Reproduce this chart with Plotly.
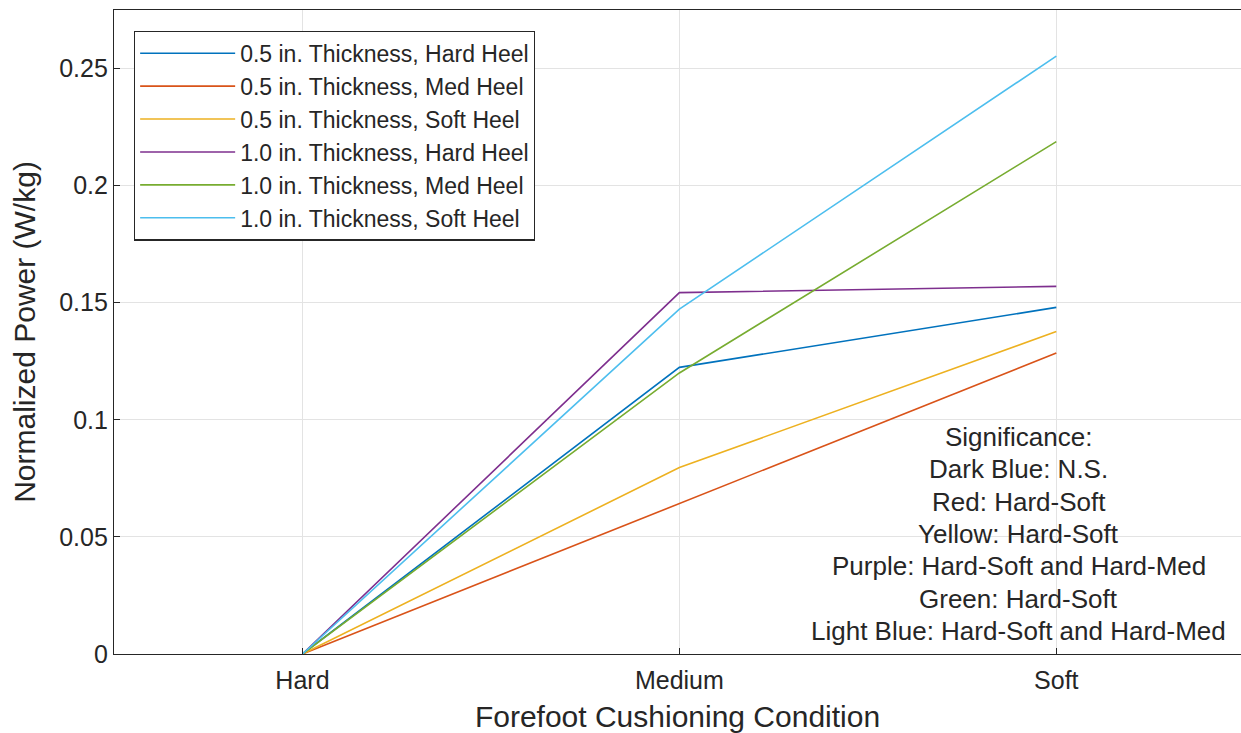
import plotly.graph_objects as go

categories = ["Hard", "Medium", "Soft"]
series_names = [
    "0.5 in. Thickness, Hard Heel",
    "0.5 in. Thickness, Med Heel",
    "0.5 in. Thickness, Soft Heel",
    "1.0 in. Thickness, Hard Heel",
    "1.0 in. Thickness, Med Heel",
    "1.0 in. Thickness, Soft Heel",
]
thin_hard = [0.0, 0.1224, 0.1480]
thin_med = [0.0, 0.0641, 0.1285]
thin_soft = [0.0, 0.0796, 0.1377]
thick_hard = [0.0, 0.1543, 0.1570]
thick_med = [0.0, 0.1200, 0.2188]
thick_soft = [0.0, 0.1473, 0.2553]
series_values = [thin_hard, thin_med, thin_soft, thick_hard, thick_med, thick_soft]
colors = ["#0072BD", "#D95319", "#EDB120", "#7E2F8E", "#77AC30", "#4DBEEE"]
y_ticks = [0, 0.05, 0.1, 0.15, 0.2, 0.25]
y_tick_labels = ["0", "0.05", "0.1", "0.15", "0.2", "0.25"]
sig_lines = [
    "Significance:",
    "Dark Blue: N.S.",
    "Red: Hard-Soft",
    "Yellow: Hard-Soft",
    "Purple: Hard-Soft and Hard-Med",
    "Green: Hard-Soft",
    "Light Blue: Hard-Soft and Hard-Med",
]

FONT = "Liberation Sans, Arial, sans-serif"
TXT = "#262626"
x_pos = list(range(1, len(categories) + 1))

fig = go.Figure()
for name, vals, col in zip(series_names, series_values, colors):
    fig.add_trace(go.Scatter(
        x=x_pos, y=vals, mode="lines", name=name,
        line=dict(color=col, width=1.6), legendgroup=name,
    ))

# significance note: one annotation per line (centred block)
note_top = 0.0927
note_step = 0.0138
for i, line in enumerate(sig_lines):
    fig.add_annotation(
        x=2.90, y=note_top - i * note_step, xref="x", yref="y",
        text=line, showarrow=False, align="center",
        xanchor="center", yanchor="middle",
        font=dict(family=FONT, size=26, color=TXT),
    )

axis_common = dict(
    showline=True, linecolor=TXT, linewidth=1.2, mirror=True,
    showgrid=True, gridcolor="#E3E3E3", gridwidth=1,
    ticks="inside", ticklen=6, tickcolor=TXT,
    tickfont=dict(family=FONT, size=25, color=TXT),
    zeroline=False,
)

fig.update_layout(
    width=1241, height=733,
    margin=dict(l=114, r=0, t=10, b=79),
    paper_bgcolor="white", plot_bgcolor="white",
    font=dict(family=FONT, color=TXT),
    xaxis=dict(
        range=[0.5, 3.49], tickvals=x_pos, ticktext=categories,
        ticklabelstandoff=4,
        title=dict(text="Forefoot Cushioning Condition", font=dict(family=FONT, size=30, color=TXT), standoff=14),
        **axis_common,
    ),
    yaxis=dict(
        range=[0, 0.275], tickvals=y_ticks, ticktext=y_tick_labels,
        title=dict(text="Normalized Power (W/kg)", font=dict(family=FONT, size=30, color=TXT), standoff=14),
        **axis_common,
    ),
    legend=dict(
        x=0.0177, y=0.968, xanchor="left", yanchor="top",
        bgcolor="white", bordercolor=TXT, borderwidth=1.2,
        font=dict(family=FONT, size=23, color=TXT),
        itemwidth=95, tracegroupgap=0,
    ),
    showlegend=True,
)

fig.write_html("out.html")
